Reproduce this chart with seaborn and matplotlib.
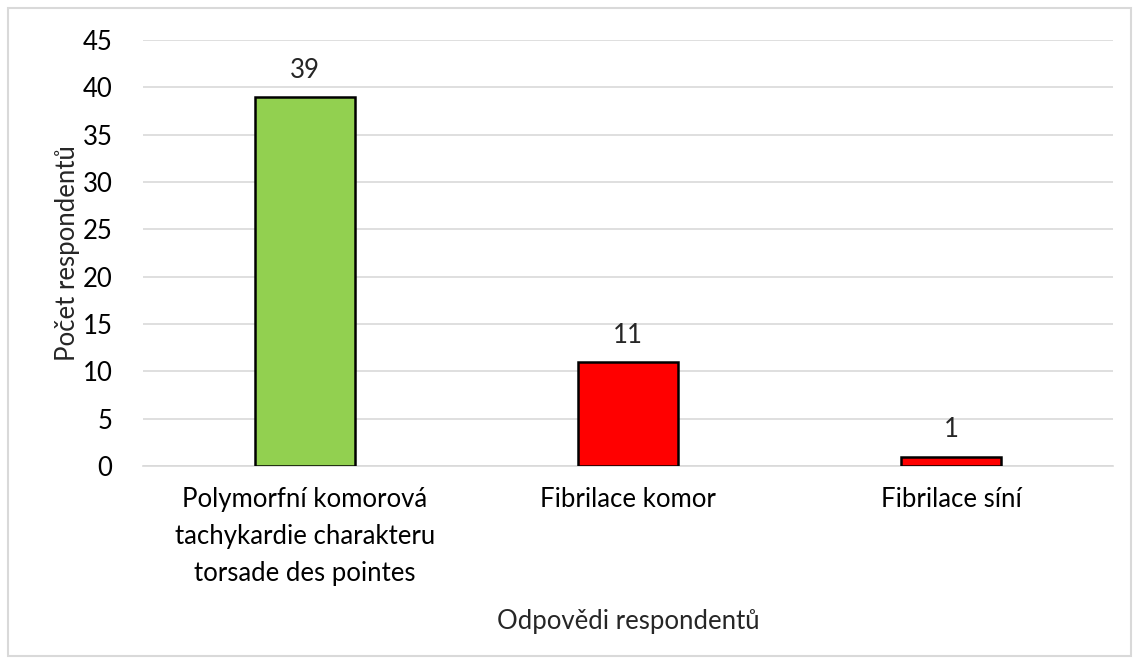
import numpy as np
import pandas as pd
import seaborn as sns
import matplotlib.pyplot as plt
from matplotlib.patches import Rectangle

# Data
categories = ["Polymorfní komorová\ntachykardie charakteru\ntorsade des pointes",
              "Fibrilace komor",
              "Fibrilace síní"]
counts = [39, 11, 1]
colors = ["#92D050", "#FF0000", "#FF0000"]
yticks = list(range(0, 50, 5))

df = pd.DataFrame({"cat": categories, "count": counts})

# Style
sns.set_style("white")
plt.rcParams['font.family'] = ['Lato', 'DejaVu Sans']

fig = plt.figure(figsize=(11.39, 6.64), dpi=100)
ax = fig.add_axes([0.1256, 0.2982, 0.8514, 0.6416])

# Create bars
sns.barplot(data=df, x="cat", y="count", hue="cat", palette=colors,
            legend=False, width=0.31, edgecolor="black", linewidth=1.8,
            saturation=1, ax=ax, zorder=3)

# Value labels
for i, v in enumerate(counts):
    ax.text(i, v + 1.5, str(v), ha="center", va="bottom", fontsize=18.5)

ax.set_ylim(0, 45)
ax.set_yticks(yticks)
ax.set_xlim(-0.5, 2.5)
ax.grid(axis="y", color="#D9D9D9", linewidth=1.2, zorder=0)
for s in ["top", "right", "left"]:
    ax.spines[s].set_visible(False)
ax.spines["bottom"].set_color("#D9D9D9")
ax.spines["bottom"].set_linewidth(1.2)
ax.tick_params(axis="both", length=0, labelsize=18.5, colors="black")
ax.tick_params(axis="y", pad=22)
ax.tick_params(axis="x", pad=15)
for lbl in ax.get_xticklabels():
    lbl.set_linespacing(1.6)
ax.set_xlabel("Odpovědi respondentů", fontsize=18.5, labelpad=17)
ax.set_ylabel("Počet respondentů", fontsize=18.5, labelpad=2)

# Outer border
fig.patches.append(Rectangle((0.007, 0.012), 0.986, 0.976, transform=fig.transFigure,
                             fill=False, edgecolor="#D9D9D9", linewidth=1.5))

fig.savefig("out.png", dpi=100)
